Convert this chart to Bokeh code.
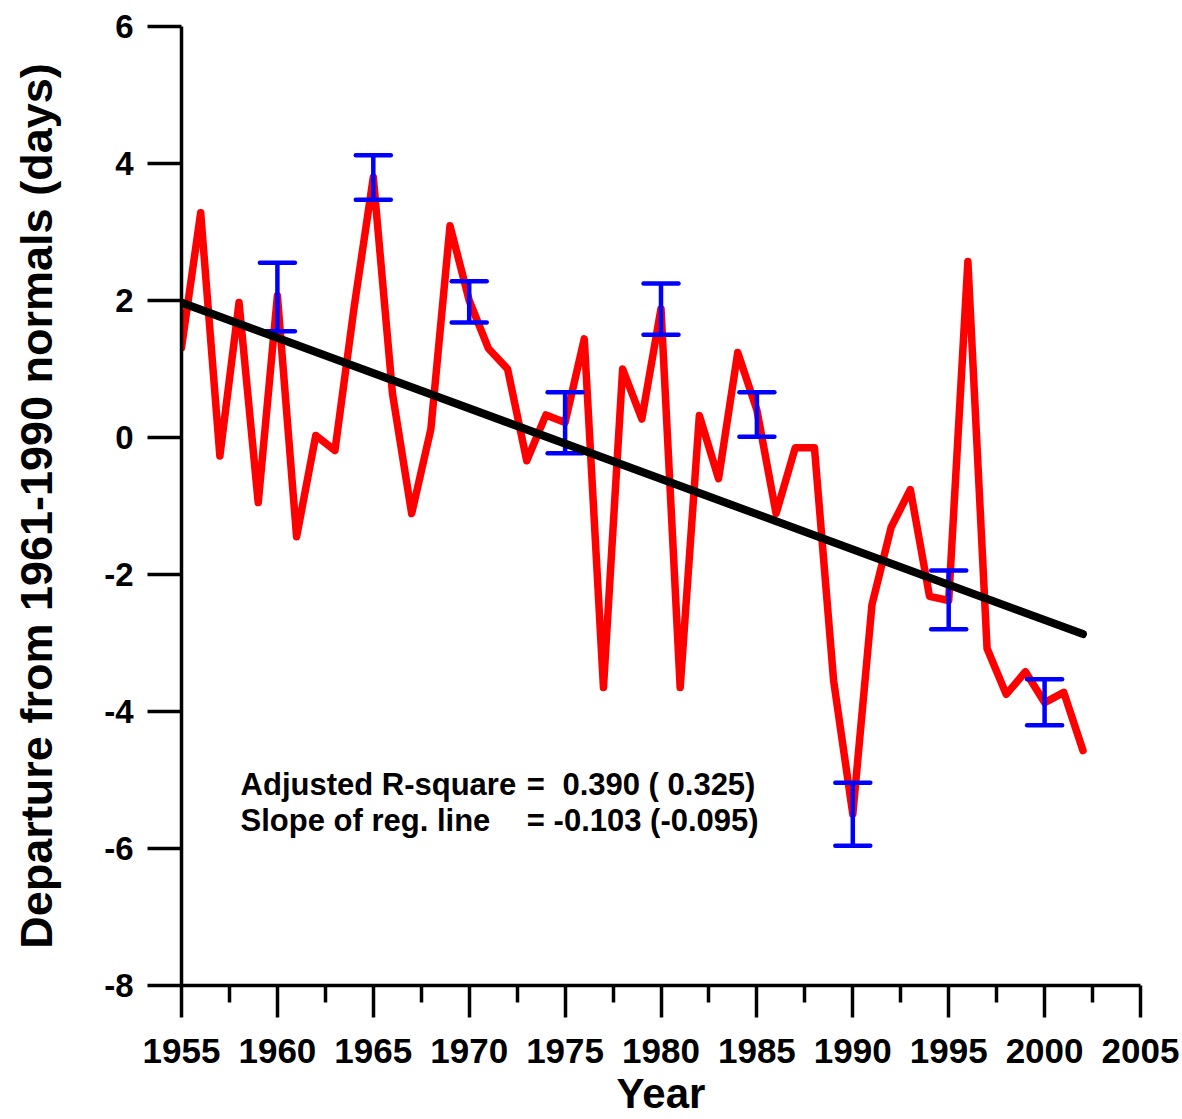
from bokeh.plotting import figure
from bokeh.models import FixedTicker, Label, Range1d
from bokeh.embed import file_html
from bokeh.resources import INLINE

# ---------------- data ----------------
years = [1955, 1956, 1957, 1958, 1959, 1960, 1961, 1962, 1963, 1964,
         1965, 1966, 1967, 1968, 1969, 1970, 1971, 1972, 1973, 1974,
         1975, 1976, 1977, 1978, 1979, 1980, 1981, 1982, 1983, 1984,
         1985, 1986, 1987, 1988, 1989, 1990, 1991, 1992, 1993, 1994,
         1995, 1996, 1997, 1998, 1999, 2000, 2001, 2002]
departure = [1.31, 3.28, -0.27, 1.97, -0.95, 2.07, -1.45, 0.03, -0.19, 1.90,
             3.80, 0.64, -1.11, 0.12, 3.09, 2.00, 1.30, 1.00, -0.34, 0.33,
             0.22, 1.44, -3.65, 1.00, 0.27, 1.88, -3.65, 0.32, -0.60, 1.24,
             0.40, -1.11, -0.15, -0.15, -3.55, -5.50, -2.44, -1.31, -0.76, -2.32,
             -2.38, 2.57, -3.08, -3.75, -3.42, -3.87, -3.72, -4.57]

err_years = [1960, 1965, 1970, 1975, 1980, 1985, 1990, 1995, 2000]
err_upper = [2.55, 4.12, 2.28, 0.66, 2.25, 0.66, -5.04, -1.94, -3.53]
err_lower = [1.55, 3.47, 1.68, -0.23, 1.50, 0.01, -5.96, -2.80, -4.20]

trend_years = [1955, 2002]
trend_values = [1.97, -2.87]

x_major_ticks = [1955, 1960, 1965, 1970, 1975, 1980, 1985, 1990, 1995, 2000, 2005]
x_minor_ticks = [1957.5, 1962.5, 1967.5, 1972.5, 1977.5, 1982.5, 1987.5, 1992.5, 1997.5, 2002.5]
y_ticks = [-8, -6, -4, -2, 0, 2, 4, 6]

stats_labels = ["Adjusted R-square", "Slope of reg. line"]
stats_values = ["0.390 ( 0.325)", "-0.103 (-0.095)"]

FONT = "Liberation Sans"

p = figure(width=1182, height=1119, output_backend="svg", toolbar_location=None,
           x_range=Range1d(1955, 2005), y_range=Range1d(-8, 6),
           min_border_left=181, min_border_right=42, min_border_top=26, min_border_bottom=134)
p.outline_line_color = None
p.xgrid.visible = False
p.ygrid.visible = False
p.background_fill_color = "white"
p.border_fill_color = "white"

# axes
for ax in (p.xaxis[0], p.yaxis[0]):
    ax.axis_line_width = 3.5
    ax.major_tick_line_width = 3.5
    ax.minor_tick_line_width = 3.5
    ax.axis_line_color = "black"
    ax.major_tick_line_color = "black"
    ax.minor_tick_line_color = "black"
    ax.major_tick_in = 0
    ax.minor_tick_in = 0
    ax.major_label_text_font = FONT
    ax.major_label_text_font_style = "bold"
    ax.major_label_text_color = "black"
    ax.axis_label_text_font = FONT
    ax.axis_label_text_font_style = "bold"
    ax.axis_label_text_color = "black"

xa = p.xaxis[0]
xa.ticker = FixedTicker(ticks=x_major_ticks, minor_ticks=x_minor_ticks)
xa.major_tick_out = 32
xa.minor_tick_out = 17
xa.major_label_standoff = 21
xa.major_label_text_font_size = "35px"
xa.major_label_overrides = {t: str(t) for t in x_major_ticks}
xa.axis_label = "Year"
xa.axis_label_text_font_size = "42px"
xa.axis_label_standoff = 4

ya = p.yaxis[0]
ya.ticker = FixedTicker(ticks=y_ticks, minor_ticks=[])
ya.major_tick_out = 34
ya.minor_tick_out = 0
ya.major_label_standoff = 14
ya.major_label_text_font_size = "33px"
ya.major_label_overrides = {t: str(t) for t in y_ticks}
ya.axis_label = "Departure from 1961-1990 normals (days)"
ya.axis_label_text_font_size = "45px"
ya.axis_label_standoff = 39

# data series
p.line(years, departure, line_color="#ff0000", line_width=7.5,
       line_join="round", line_cap="round")
p.segment(x0=err_years, y0=err_lower, x1=err_years, y1=err_upper,
          line_color="#0000ff", line_width=4.5)
p.scatter(err_years, err_upper, marker="dash", size=35, line_color="#0000ff",
          line_width=4.5, line_cap="round")
p.scatter(err_years, err_lower, marker="dash", size=35, line_color="#0000ff",
          line_width=4.5, line_cap="round")
p.line(trend_years, trend_values, line_color="black", line_width=8, line_cap="round")

# statistics text
for lab, val, ypos, vx in zip(stats_labels, stats_values, [-5.07, -5.59], [1974.86, 1974.40]):
    common = dict(y=ypos, text_font=FONT, text_font_style="bold", text_font_size="31px",
                  text_baseline="middle", text_color="black")
    p.add_layout(Label(x=1958.08, text=lab, **common))
    p.add_layout(Label(x=1973.0, text="=", **common))
    p.add_layout(Label(x=vx, text=val, **common))

open("out.html", "w").write(file_html(p, INLINE))
